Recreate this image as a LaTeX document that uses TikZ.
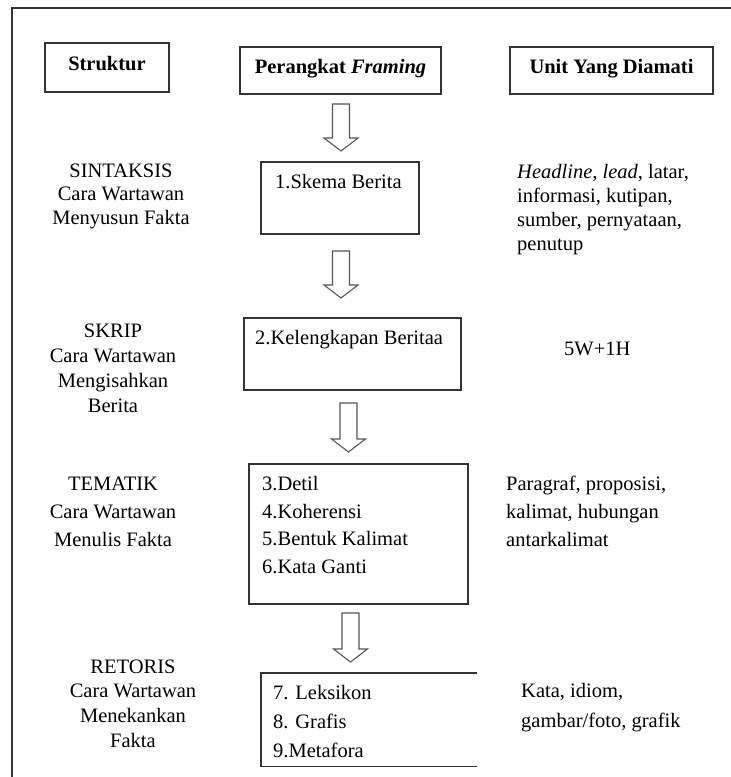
\documentclass[tikz,border=0pt]{standalone}
\usepackage{fontspec}
\setmainfont{Liberation Serif}
\usetikzlibrary{calc}
\definecolor{lineclr}{HTML}{333333}
\definecolor{arrowclr}{HTML}{555555}
\newcommand{\blkarrow}[2]{%
  \draw[arrowline] ($(#1)+(-8.5,0)$) -- ($(#2)+(-8.5,-13)$) -- ($(#2)+(-17,-13)$) -- (#2)
    -- ($(#2)+(17,-13)$) -- ($(#2)+(8.5,-13)$) -- ($(#1)+(8.5,0)$) -- cycle;}
\begin{document}
\begin{tikzpicture}[x=1pt,y=-1pt,
  boxline/.style={draw=lineclr,line width=1.6pt},
  arrowline/.style={draw=arrowclr,line width=1.1pt,line join=miter},
  headbox/.style={boxline,inner sep=0pt,text height=14pt,text depth=9pt,
    font=\fontsize{20.5}{24}\selectfont\bfseries},
  plainbox/.style={boxline,inner sep=0pt,anchor=north west},
  lbl/.style={inner sep=0pt,font=\fontsize{20.5}{24}\selectfont},
  lblc/.style={lbl,align=center,anchor=north},
  lbll/.style={lbl,align=left,anchor=north west}]
\useasboundingbox (0,0) rectangle (731,777);
% outer frame
\coordinate (fbl) at (12,777);
\coordinate (ftl) at (12,8);
\coordinate (ftr) at (731,8);
\draw[draw=lineclr,line width=1.8pt] (fbl) -- (ftl) -- (ftr);

% headers
\node[headbox,minimum width=124pt,minimum height=49pt] (struktur) at (107,67.5) {Struktur};
\node[headbox,minimum width=201pt,minimum height=47pt] (perangkat) at (340.5,70.5) {Perangkat \textit{Framing}};
\node[headbox,minimum width=203pt,minimum height=47pt] (unit) at (611.5,70.5) {Unit Yang Diamati};

% central boxes
\node[plainbox,minimum width=158pt,minimum height=72pt] (b1) at (260,161) {};
\node[plainbox,minimum width=217pt,minimum height=72pt] (b2) at (243,317) {};
\node[plainbox,minimum width=219pt,minimum height=140pt] (b3) at (248,463) {};
\node[inner sep=0pt,anchor=north west,minimum width=216pt,minimum height=93pt] (b4) at (261,673) {};
\draw[boxline] (b4.north east) -- (b4.north west) -- (b4.south west) -- (b4.south east);

% texts inside boxes
\node[lbll] (t1) at (275,174) {1.Skema Berita};
\node[lbll] (t2) at (255,330) {2.Kelengkapan Beritaa};
\node[lbll,font=\fontsize{20.5}{27.7}\selectfont] (t3) at (262,476) {3.Detil\\4.Koherensi\\5.Bentuk Kalimat\\6.Kata Ganti};
\node[lbll,font=\fontsize{20.5}{29}\selectfont] (t4) at (273,685) {7. Leksikon\\8. Grafis\\9.Metafora};

% block arrows
\coordinate (a1s) at (341,104);  \coordinate (a1e) at (341,151);
\coordinate (a2s) at (341,251);  \coordinate (a2e) at (341,298);
\coordinate (a3s) at (348.5,403); \coordinate (a3e) at (348.5,452);
\coordinate (a4s) at (350.5,613); \coordinate (a4e) at (350.5,662);
\blkarrow{a1s}{a1e}
\blkarrow{a2s}{a2e}
\blkarrow{a3s}{a3e}
\blkarrow{a4s}{a4e}

% left column
\node[lblc,font=\fontsize{20.5}{23.5}\selectfont] (sint) at (121,163.5) {SINTAKSIS\\Cara Wartawan\\Menyusun Fakta};
\node[lblc,font=\fontsize{20.5}{25}\selectfont] (skrip) at (113,323.5) {SKRIP\\Cara Wartawan\\Mengisahkan\\Berita};
\node[lblc,font=\fontsize{20.5}{28}\selectfont] (tema) at (113,476.5) {TEMATIK\\Cara Wartawan\\Menulis Fakta};
\node[lblc,font=\fontsize{20.5}{24.7}\selectfont] (reto) at (133,659.5) {RETORIS\\Cara Wartawan\\Menekankan\\Fakta};

% right column
\node[lbll,font=\fontsize{20.5}{24}\selectfont] (r1) at (517,164) {\textit{Headline}, \textit{lead}, latar,\\informasi, kutipan,\\sumber, pernyataan,\\penutup};
\node[lbll] (r2) at (564,341.5) {5W+1H};
\node[lbll,font=\fontsize{20.5}{28}\selectfont] (r3) at (506,476) {Paragraf, proposisi,\\kalimat, hubungan\\antarkalimat};
\node[lbll,font=\fontsize{20.5}{30}\selectfont] (r4) at (521,683) {Kata, idiom,\\gambar/foto, grafik};
\end{tikzpicture}
\end{document}
